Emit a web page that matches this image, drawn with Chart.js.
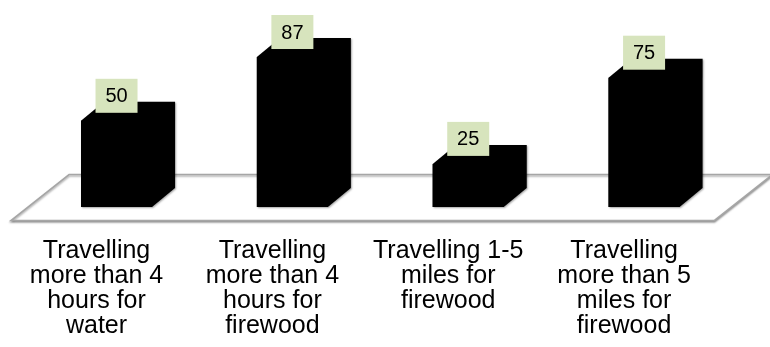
<!DOCTYPE html>
<html>
<head>
<meta charset="utf-8">
<script src="https://cdn.jsdelivr.net/npm/chart.js@4"></script>
<style>
  body { margin: 0; background: #fff; }
</style>
</head>
<body>
<canvas id="grafico" width="770" height="347"></canvas>
<script>
// categorias (cada una partida en lineas) y valores de las barras
const categorias = [
  ['Travelling', 'more than 4', 'hours for', 'water'],
  ['Travelling', 'more than 4', 'hours for', 'firewood'],
  ['Travelling 1-5', 'miles for', 'firewood'],
  ['Travelling', 'more than 5', 'miles for', 'firewood']
];
const valores = [50, 87, 25, 75];
const etiquetas = ['50', '87', '25', '75'];

// profundidad de las barras y del piso (efecto 3D)
var fondoBarra = { x: 23, y: -19 };
var fondoPiso = { x: 58, y: -46 };

var plugin3d = {
  id: 'barras3d',
  beforeDatasetsDraw: function(chart) {
    var ctx = chart.ctx;
    var area = chart.chartArea;
    var cero = chart.scales.y.getPixelForValue(0);

    // piso: paralelogramo centrado en la mitad de la profundidad de las barras
    var mx = fondoBarra.x / 2, my = cero + fondoBarra.y / 2;
    var fy = my - fondoPiso.y / 2, by = my + fondoPiso.y / 2;
    var fl = area.left + mx - fondoPiso.x / 2, fr = area.right + mx - fondoPiso.x / 2;
    ctx.save();
    ctx.beginPath();
    ctx.moveTo(fl, fy);
    ctx.lineTo(fr, fy);
    ctx.lineTo(fr + fondoPiso.x, by);
    ctx.lineTo(fl + fondoPiso.x, by);
    ctx.closePath();
    ctx.fillStyle = '#ffffff';
    ctx.shadowColor = 'rgba(0,0,0,0.35)';
    ctx.shadowBlur = 2;
    ctx.shadowOffsetY = 1.5;
    ctx.strokeStyle = '#a6a6a6';
    ctx.lineWidth = 1.6;
    ctx.fill();
    ctx.stroke();
    ctx.restore();

    // caras laterales y superior de cada barra
    var meta = chart.getDatasetMeta(0);
    meta.data.forEach(function(bar) {
      var p = bar.getProps(['x', 'y', 'base', 'width'], true);
      var L = p.x - p.width / 2, R = p.x + p.width / 2;
      var T = p.y, B = p.base;
      ctx.save();
      ctx.beginPath();
      ctx.moveTo(L, T);
      ctx.lineTo(L + fondoBarra.x, T + fondoBarra.y);
      ctx.lineTo(R + fondoBarra.x, T + fondoBarra.y);
      ctx.lineTo(R + fondoBarra.x, B + fondoBarra.y);
      ctx.lineTo(R, B);
      ctx.lineTo(L, B);
      ctx.closePath();
      ctx.shadowColor = 'rgba(0,0,0,0.35)';
      ctx.shadowBlur = 2;
      ctx.shadowOffsetX = 1;
      ctx.shadowOffsetY = 1;
      ctx.fillStyle = '#000000';
      ctx.fill();
      ctx.restore();
    });
  },
  afterDatasetsDraw: function(chart) {
    // etiquetas de valor en cajas verdes
    var ctx = chart.ctx;
    var meta = chart.getDatasetMeta(0);
    meta.data.forEach(function(bar, i) {
      var p = bar.getProps(['x', 'y'], true);
      var w = 42, h = 34;
      var bx = p.x - w / 2, by = p.y - 8 - h;
      ctx.save();
      ctx.fillStyle = '#d7e4bd';
      ctx.fillRect(bx, by, w, h);
      ctx.fillStyle = '#000000';
      ctx.font = '20px "Liberation Sans", Arial, sans-serif';
      ctx.textAlign = 'center';
      ctx.textBaseline = 'middle';
      ctx.fillText(etiquetas[i], p.x, by + h / 2 + 1);
      ctx.restore();
    });
  }
};

new Chart(document.getElementById('grafico'), {
  type: 'bar',
  data: {
    labels: categorias,
    datasets: [{
      data: valores,
      backgroundColor: '#000000',
      borderWidth: 0,
      barPercentage: 0.404,
      categoryPercentage: 1
    }]
  },
  options: {
    responsive: false,
    animation: false,
    layout: { padding: { left: 28.6, right: 38, top: 34.6, bottom: 0 } },
    plugins: {
      legend: { display: false },
      tooltip: { enabled: false }
    },
    scales: {
      x: {
        grid: { display: false, drawTicks: false },
        border: { display: false },
        ticks: {
          autoSkip: false,
          maxRotation: 0,
          minRotation: 0,
          padding: 32,
          labelOffset: -20,
          color: '#000000',
          font: { family: '"Liberation Sans", Arial, sans-serif', size: 25, lineHeight: 1 }
        },
        afterFit: function(scale) { scale.height = 140; }
      },
      y: {
        display: false,
        min: 0,
        max: 100
      }
    }
  },
  plugins: [plugin3d]
});
</script>
</body>
</html>
